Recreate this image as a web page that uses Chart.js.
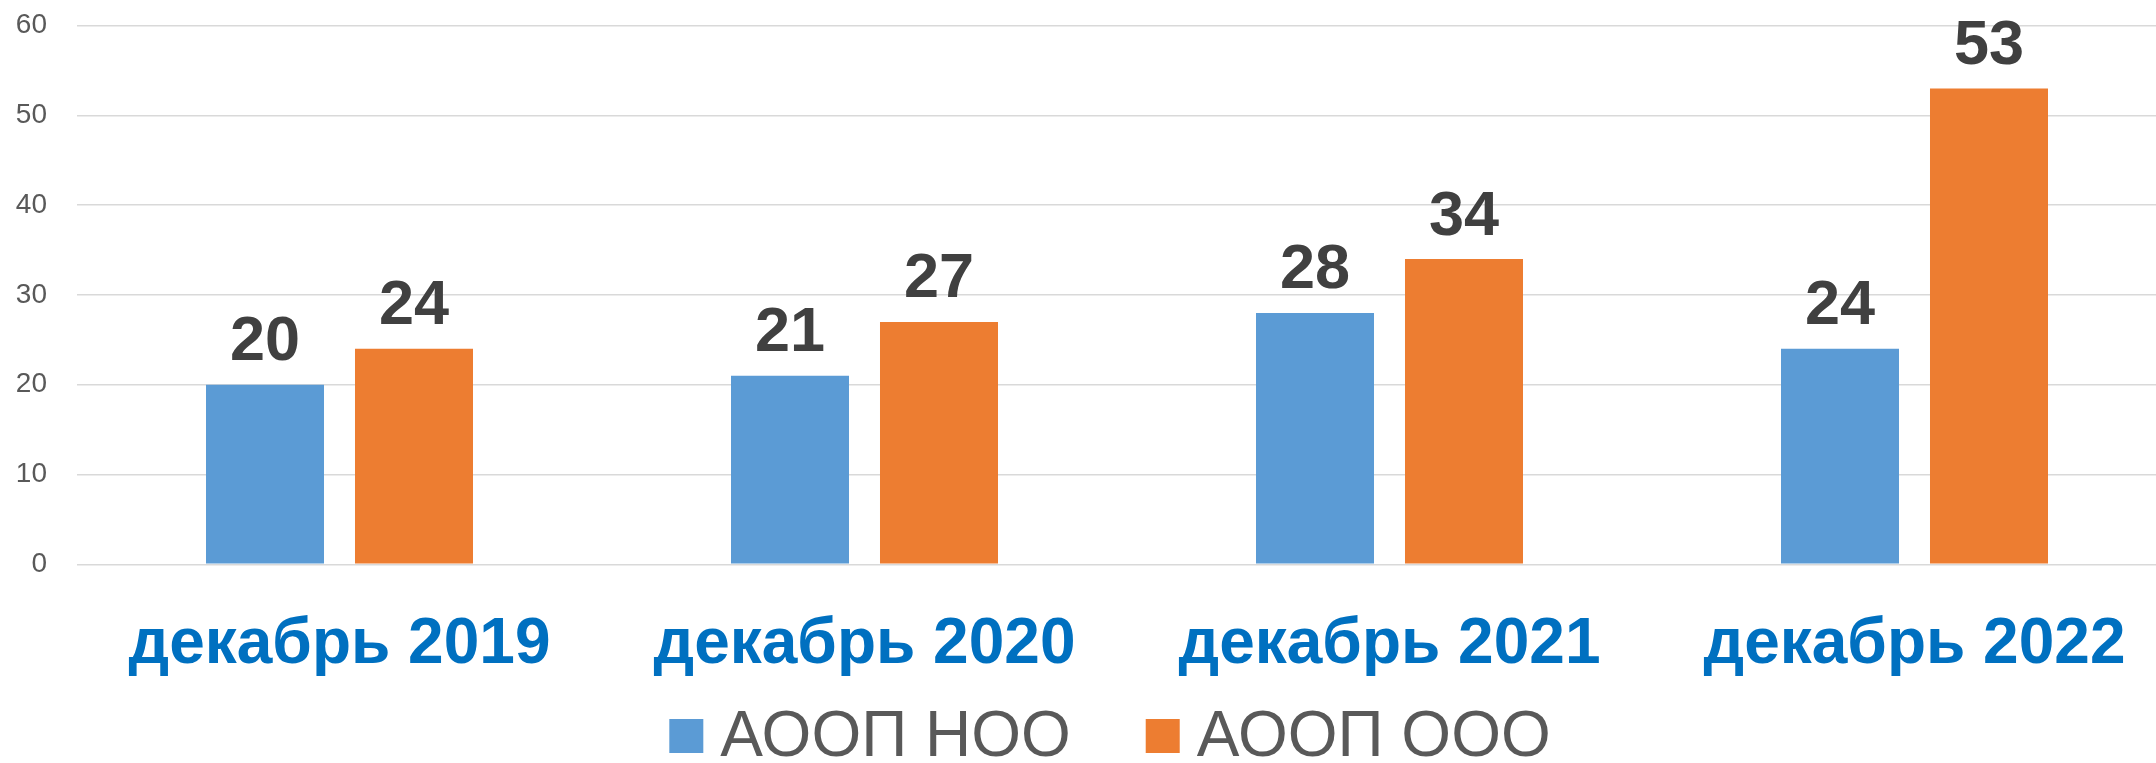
<!DOCTYPE html>
<html><head><meta charset="utf-8">
<script src="https://cdn.jsdelivr.net/npm/chart.js@4"></script>
<style>html,body{margin:0;padding:0;overflow:hidden;background:#fff}#wrap{width:2220px;height:763px;position:relative}</style>
</head><body><div id="wrap"><canvas id="c"></canvas></div>
<script>
const categories = ['декабрь 2019', 'декабрь 2020', 'декабрь 2021', 'декабрь 2022'];
const seriesNames = ['АООП НОО', 'АООП ООО'];
const nooValues = [20, 21, 28, 24];
const oooValues = [24, 27, 34, 53];
const yTicks = [0, 10, 20, 30, 40, 50, 60];

const FONT = '"Liberation Sans", Arial, sans-serif';

const valueLabels = {
  id: 'valueLabels',
  afterDatasetsDraw(chart) {
    const ctx = chart.ctx;
    ctx.save();
    ctx.font = 'bold 63px ' + FONT;
    ctx.fillStyle = '#404040';
    ctx.textAlign = 'center';
    ctx.textBaseline = 'alphabetic';
    chart.data.datasets.forEach((ds, i) => {
      chart.getDatasetMeta(i).data.forEach((bar, j) => {
        ctx.fillText(String(ds.data[j]), bar.x, bar.y - 24.5);
      });
    });
    ctx.restore();
  }
};

const bottomLegend = {
  id: 'bottomLegend',
  afterDraw(chart) {
    const ctx = chart.ctx;
    const box = 34, textGap = 17, itemGap = 75;
    ctx.save();
    ctx.font = '64px ' + FONT;
    ctx.textBaseline = 'middle';
    ctx.textAlign = 'left';
    const items = chart.data.datasets.map(ds => ({ text: ds.label, color: ds.backgroundColor, w: box + textGap + ctx.measureText(ds.label).width }));
    const total = items.reduce((s, it) => s + it.w, 0) + itemGap * (items.length - 1);
    let x = chart.width / 2 - total / 2;
    const cy = chart.height - 27;
    items.forEach(it => {
      ctx.fillStyle = it.color;
      ctx.fillRect(x, cy - box / 2, box, box);
      ctx.fillStyle = '#595959';
      ctx.fillText(it.text, x + box + textGap, cy + 2);
      x += it.w + itemGap;
    });
    ctx.restore();
  }
};

new Chart(document.getElementById('c'), {
  type: 'bar',
  data: {
    labels: categories,
    datasets: [
      { label: seriesNames[0], data: nooValues, backgroundColor: '#5B9BD5', borderWidth: 0 },
      { label: seriesNames[1], data: oooValues, backgroundColor: '#ED7D31', borderWidth: 0 }
    ]
  },
  options: {
    responsive: true,
    maintainAspectRatio: false,
    animation: false,
    events: [],
    categoryPercentage: 0.5676,
    barPercentage: 0.792,
    layout: { padding: { left: 0, right: 43, top: 25.7, bottom: 0 } },
    plugins: {
      tooltip: { enabled: false },
      legend: { display: false }
    },
    scales: {
      x: {
        grid: { display: false, drawTicks: false },
        border: { display: false },
        afterFit: s => { s.height = 198.7; s.paddingLeft = 0; s.paddingRight = 0; },
        ticks: {
          color: '#0070C0',
          font: { family: FONT, size: 64, weight: 'bold', lineHeight: 1.2 },
          padding: 42.3,
          maxRotation: 0,
          autoSkip: false
        }
      },
      y: {
        min: 0,
        max: 60,
        afterBuildTicks: s => { s.ticks = yTicks.map(v => ({ value: v })); },
        afterFit: s => { s.width = 77; s.paddingTop = 0; s.paddingBottom = 0; },
        grid: { color: '#d9d9d9', lineWidth: 1.5, drawTicks: false },
        border: { display: false },
        ticks: {
          color: '#595959',
          padding: 30,
          font: { family: FONT, size: 28 }
        }
      }
    }
  },
  plugins: [valueLabels, bottomLegend]
});
</script>
</body></html>
